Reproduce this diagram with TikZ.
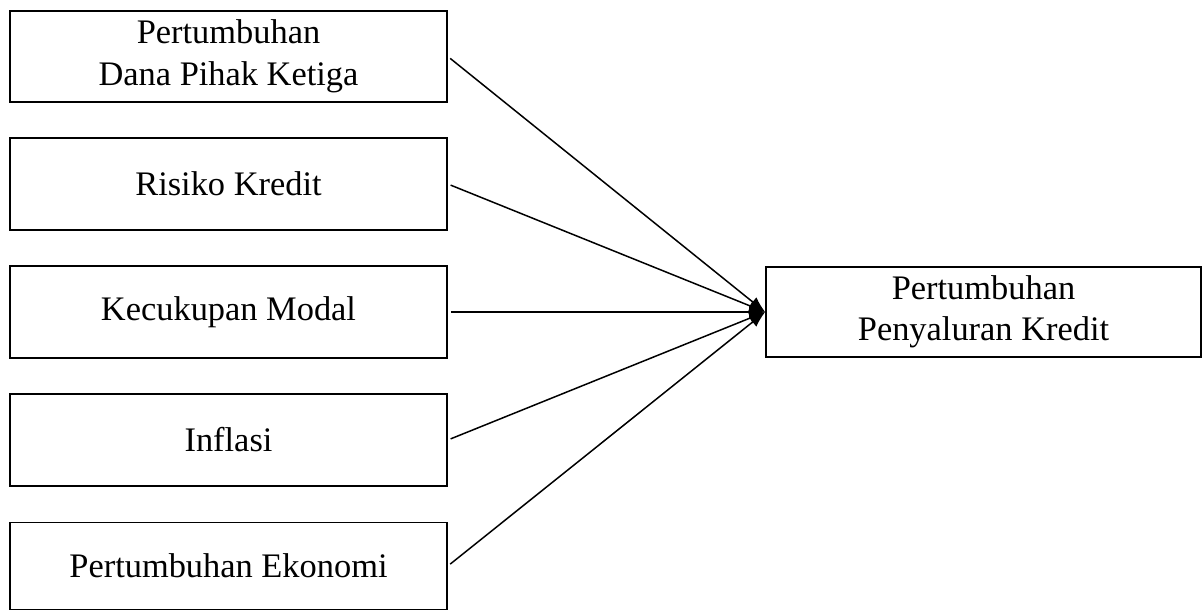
\documentclass[tikz,border=0pt]{standalone}
\usepackage{fontspec}
\setmainfont{Liberation Serif}
\usetikzlibrary{arrows.meta}
\begin{document}
\begin{tikzpicture}[x=1pt,y=-1pt,
  box/.style={draw,line width=1.7pt,inner sep=0pt,minimum width=437pt,align=center,
    font=\fontsize{34.4}{41.5}\selectfont},
  conn/.style={line width=1.5pt,-{Latex[length=16pt,width=12pt]},shorten <=3pt}]
\useasboundingbox (0,0) rectangle (1202,612);
\node[box,minimum height=91pt] (b1) at (228.5,56.5) {Pertumbuhan\\Dana Pihak Ketiga};
\node[box,minimum height=92pt] (b2) at (228.5,184) {Risiko Kredit};
\node[box,minimum height=92pt] (b3) at (228.5,312) {Kecukupan Modal};
\node[box,minimum height=92pt] (b4) at (228.5,440) {Inflasi};
\node[box,minimum height=87pt] (b5) at (228.5,566) {Pertumbuhan Ekonomi};
\node[box,minimum width=435pt,minimum height=90pt] (t) at (983.5,312) {Pertumbuhan\\Penyaluran Kredit};
\foreach \b in {b1,b2,b3,b4,b5} \draw[conn] (\b.east) -- (t.west);
\end{tikzpicture}
\end{document}
